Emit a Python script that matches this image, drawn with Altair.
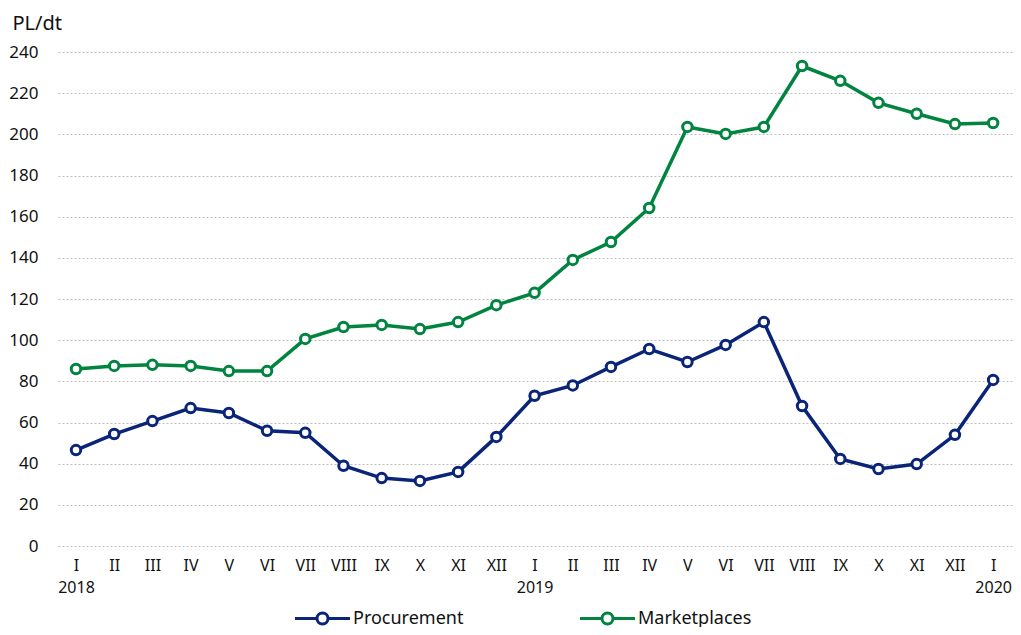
import json
import altair as alt
import pandas as pd

months = ["I", "II", "III", "IV", "V", "VI", "VII", "VIII", "IX", "X", "XI", "XII",
          "I", "II", "III", "IV", "V", "VI", "VII", "VIII", "IX", "X", "XI", "XII", "I"]
year_marks = {0: "2018", 12: "2019", 24: "2020"}

procurement = [46.6, 54.4, 60.7, 67.0, 64.6, 56.0, 55.0, 39.0, 33.0, 31.6, 36.0, 53.0,
               73.0, 78.0, 87.0, 95.7, 89.4, 97.7, 108.8, 68.0, 42.3, 37.4, 39.8, 54.0, 80.7]
marketplaces = [86.0, 87.5, 88.0, 87.5, 85.0, 85.0, 100.6, 106.4, 107.4, 105.4, 108.8, 117.0,
                123.0, 139.0, 147.7, 164.2, 203.6, 200.2, 203.6, 233.2, 226.0, 215.3, 210.0, 205.0, 205.5]

series_names = ["Procurement", "Marketplaces"]
series_colors = ["#0a2478", "#00843f"]
y_ticks = list(range(0, 241, 20))

rows = []
for i in range(len(months)):
    rows.append({"idx": i, "series": "Procurement", "value": procurement[i]})
    rows.append({"idx": i, "series": "Marketplaces", "value": marketplaces[i]})
df = pd.DataFrame(rows)

label_strings = [m + ("|" + year_marks[i] if i in year_marks else "") for i, m in enumerate(months)]
label_expr = "split(" + json.dumps(label_strings) + "[datum.value], '|')"

FONT = "Noto Sans"

legend_path = ("M-2.5,0L-0.5,0M0.5,0L2.5,0"
               "M-0.5,0A0.5,0.5,0,1,1,0.5,0A0.5,0.5,0,1,1,-0.5,0Z")

legend = alt.Legend(
    title=None, orient="none", direction="horizontal",
    legendX=252, legendY=554,
    symbolType=legend_path, symbolSize=484, symbolStrokeWidth=3,
    symbolFillColor="white", labelFontSize=18, labelFont=FONT, labelColor="#111",
    labelOffset=18, columnPadding=110,
)

x_enc = alt.X(
    "idx:Q",
    scale=alt.Scale(domain=[-0.471, 24.52], nice=False, zero=False),
    axis=alt.Axis(values=list(range(len(months))), labelExpr=label_expr, grid=False,
                  ticks=False, domain=False, title=None, labelFontSize=16, labelFont=FONT,
                  labelColor="#111", labelPadding=11, labelLineHeight=22,
                  labelBaseline="top", labelFlush=False, labelOverlap=False),
)
y_enc = alt.Y(
    "value:Q",
    scale=alt.Scale(domain=[0, 240], nice=False),
    axis=alt.Axis(values=y_ticks, grid=True, gridDash=[2, 2], gridColor="#bdbdbd", gridWidth=1,
                  ticks=False, domain=False, labelFontSize=17, labelFont=FONT, labelColor="#111",
                  labelPadding=20, title="PL/dt", titleAngle=0, titleX=-46, titleY=-23,
                  titleAlign="left", titleBaseline="alphabetic", titleFontSize=20,
                  titleFont=FONT, titleFontWeight="normal", titleColor="#111"),
)
color_enc = alt.Color("series:N", scale=alt.Scale(domain=series_names, range=series_colors),
                      sort=series_names, legend=legend)

base = alt.Chart(df).encode(x=x_enc, y=y_enc, color=color_enc, detail="series:N")

lines = base.mark_line(strokeWidth=3.5)
points = base.mark_point(filled=False, fill="white", fillOpacity=1, size=90, strokeWidth=3, opacity=1)

chart = alt.layer(lines, points).properties(
    width=955, height=494, autosize="none",
    padding={"left": 50, "top": 44, "right": 0, "bottom": 81},
).configure_view(stroke=None)

chart.save("out.html", embed_options={"renderer": "svg", "actions": False})
